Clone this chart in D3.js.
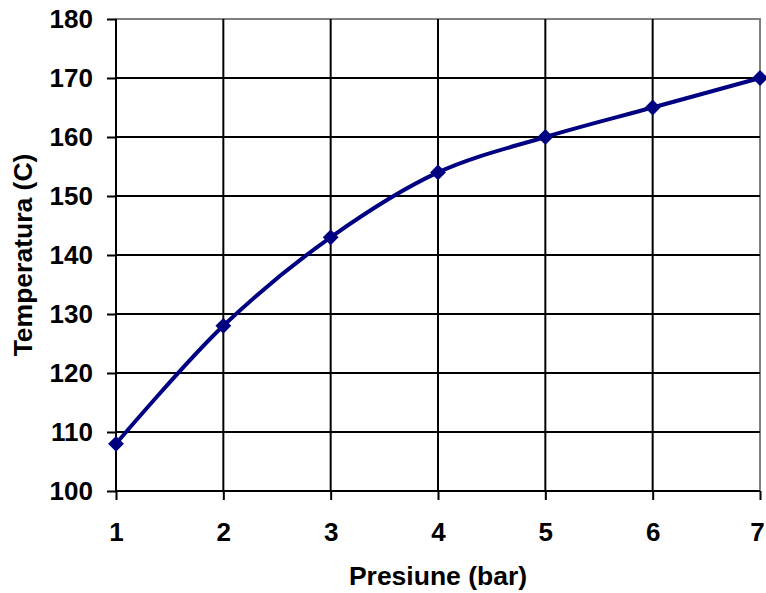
<!DOCTYPE html>
<html>
<head>
<meta charset="utf-8">
<script src="https://cdn.jsdelivr.net/npm/d3@7"></script>
<style>
  body { margin: 0; background: #fff; }
  text { font-family: "Liberation Sans", Arial, sans-serif; font-weight: bold; }
</style>
</head>
<body>
<div id="chart"></div>
<script>
var presiune = [1, 2, 3, 4, 5, 6, 7]
var temperatura = [108, 128, 143, 154, 160, 165, 170]
var xTicks = [1, 2, 3, 4, 5, 6, 7]
var yTicks = [100, 110, 120, 130, 140, 150, 160, 170, 180]

var width = 766, height = 593
var margin = { top: 19, right: 6, bottom: 102, left: 116 }
var fontSize = "26px"

var svg = d3.select("#chart")
  .append("svg")
  .attr("width", width)
  .attr("height", height)

var xScale = d3.scaleLinear()
  .domain([1, 7])
  .range([margin.left, width - margin.right])

var yScale = d3.scaleLinear()
  .domain([100, 180])
  .range([height - margin.bottom, margin.top])

// plot border (gray)
svg.append("rect")
  .attr("x", margin.left)
  .attr("y", margin.top)
  .attr("width", width - margin.right - margin.left)
  .attr("height", height - margin.bottom - margin.top)
  .attr("fill", "none")
  .attr("stroke", "#808080")
  .attr("stroke-width", 2)

// grid
svg.append("g")
  .selectAll("line")
  .data(yTicks.slice(0, -1))
  .enter()
  .append("line")
  .attr("x1", margin.left)
  .attr("x2", width - margin.right)
  .attr("y1", d => yScale(d))
  .attr("y2", d => yScale(d))
  .attr("stroke", "black")
  .attr("stroke-width", 2)

svg.append("g")
  .selectAll("line")
  .data(xTicks.slice(0, -1))
  .enter()
  .append("line")
  .attr("x1", d => xScale(d))
  .attr("x2", d => xScale(d))
  .attr("y1", margin.top)
  .attr("y2", height - margin.bottom)
  .attr("stroke", "black")
  .attr("stroke-width", 2)

// Y axis
var yAxis = d3.axisLeft(yScale)
  .tickValues(yTicks)
  .tickSize(9)
  .tickPadding(14)

var yRender = svg.append("g")
  .attr("transform", `translate(${margin.left},0)`)
  .call(yAxis)
yRender.select(".domain").remove()
yRender.selectAll(".tick line").attr("stroke", "black").attr("stroke-width", 2)
yRender.selectAll(".tick text")
  .style("font-size", fontSize)
  .style("fill", "black")

// X axis
var xAxis = d3.axisBottom(xScale)
  .tickValues(xTicks)
  .tickSize(9)
  .tickPadding(23)
  .tickFormat(d3.format("d"))

var xRender = svg.append("g")
  .attr("transform", `translate(0,${height - margin.bottom})`)
  .call(xAxis)
xRender.select(".domain").remove()
xRender.selectAll(".tick line").attr("stroke", "black").attr("stroke-width", 2)
xRender.selectAll(".tick text")
  .style("font-size", fontSize)
  .style("fill", "black")
  .attr("dx", d => d === 7 ? -3 : 0)

// black axis lines
svg.append("line")
  .attr("x1", margin.left).attr("x2", margin.left)
  .attr("y1", margin.top).attr("y2", height - margin.bottom)
  .attr("stroke", "black").attr("stroke-width", 2)
svg.append("line")
  .attr("x1", margin.left).attr("x2", width - margin.right)
  .attr("y1", height - margin.bottom).attr("y2", height - margin.bottom)
  .attr("stroke", "black").attr("stroke-width", 2)

// titles
svg.append("text")
  .attr("text-anchor", "middle")
  .attr("x", 438)
  .attr("y", 585)
  .style("font-size", "26.5px")
  .text("Presiune (bar)")

svg.append("text")
  .attr("text-anchor", "middle")
  .attr("transform", `translate(32,${(margin.top + height - margin.bottom) / 2}) rotate(-90)`)
  .style("font-size", "26.5px")
  .text("Temperatura (C)")

// line
var data = presiune.map((p, i) => ({ x: p, y: temperatura[i] }))

var line = d3.line()
  .x(d => xScale(d.x))
  .y(d => yScale(d.y))
  .curve(d3.curveCatmullRom.alpha(0.5))

svg.append("path")
  .datum(data)
  .attr("d", line)
  .attr("fill", "none")
  .attr("stroke", "#000080")
  .attr("stroke-width", 4)

svg.append("g")
  .selectAll("path")
  .data(data)
  .enter()
  .append("path")
  .attr("d", d3.symbol().type(d3.symbolSquare).size(125))
  .attr("transform", d => `translate(${xScale(d.x)},${yScale(d.y)}) rotate(45)`)
  .attr("fill", "#000080")
</script>
</body>
</html>
